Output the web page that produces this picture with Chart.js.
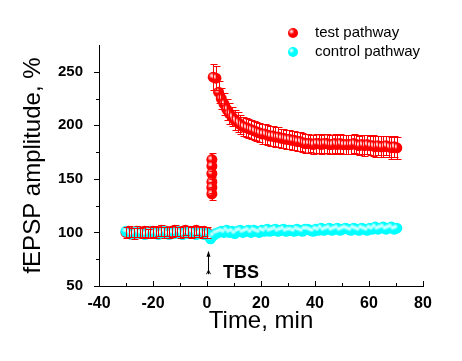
<!DOCTYPE html>
<html>
<head>
<meta charset="utf-8">
<script src="https://cdn.jsdelivr.net/npm/chart.js@4.4.1/dist/chart.umd.min.js"></script>
<style>
  html, body { margin: 0; padding: 0; background: #fff; }
</style>
</head>
<body>
<canvas id="ltpChart" width="462" height="361"></canvas>
<script>
// time points (min)
const baselineTime = [-30,-29,-28,-27,-26,-25,-24,-23,-22,-21,-20,-19,-18,-17,-16,-15,-14,-13,-12,-11,-10,-9,-8,-7,-6,-5,-4,-3,-2,-1,0];
const tbsTime = [1.8,1.8,1.8,1.8,1.8,1.8];
const controlDipTime = [1.3];
const postTime = [2.3,3.3,4.3,5.3,6.3,7.3,8.3,9.3,10.3,11.3,
  12.3,13.3,14.3,15.3,16.3,17.3,18.3,19.3,20.3,21.3,
  22.3,23.3,24.3,25.3,26.3,27.3,28.3,29.3,30.3,31.3,
  32.3,33.3,34.3,35.3,36.3,37.3,38.3,39.3,40.3,41.3,
  42.3,43.3,44.3,45.3,46.3,47.3,48.3,49.3,50.3,51.3,
  52.3,53.3,54.3,55.3,56.3,57.3,58.3,59.3,60.3,61.3,
  62.3,63.3,64.3,65.3,66.3,67.3,68.3,69.3,70.3];

// test pathway, % of baseline, with SEM
const testBaseline = [100,101,100,99,101,100,100,101,99,100,101,100,101,102,100,101,100,101,102,101,100,101,102,101,100,101,102,101,100,101,100];
const testBaselineErr = [5,5,4,5,5,4,5,5,4,5,5,5,4,5,5,4,5,5,5,4,5,5,4,5,5,5,4,5,5,4,5];
const testTbs = [136,142,147,155,162,168];
const testTbsErr = [6,5,5,5,5,6];
const testPost = [245,244,231,225,220,215,211,208,205,203,
  201,199,198,197,196,195,194,193,192,192,
  191,190,190,189,189,188,188,187,187,186,
  186,185,185,184,183,183,183,182,183,183,
  182,183,183,182,182,183,182,183,182,182,
  182,182,183,182,181,182,181,182,181,181,
  180,181,180,180,181,180,179,180,179];
const testPostErr = [12,11,10,10,10,10,10,9,9,9,
  9,9,9,9,9,9,9,9,9,9,
  9,9,9,9,9,9,9,9,9,9,
  9,9,9,9,9,9,8,9,9,9,
  9,9,9,9,9,9,9,9,9,9,
  9,9,9,9,9,9,10,9,9,10,
  10,9,10,10,9,10,10,10,10];

// control pathway
const controlBaseline = [101,100,98,99,101,99,100,98,99,101,99,100,98,99,101,99,98,100,99,101,100,98,100,99,101,100,98,99,100,98,99];
const controlDip = [94];
const controlPost = [97,99,100,101,100,102,100,101,99,
  101,102,100,101,102,100,102,101,100,102,
  101,103,101,102,103,101,102,103,101,102,
  102,101,103,102,101,103,103,102,101,103,
  102,104,102,103,104,102,103,104,102,103,
  104,103,102,104,103,102,104,103,102,104,
  103,105,103,104,105,103,104,105,103,104];

// axes
const xTicks = [-40,-20,0,20,40,60,80];
const xMinorTicks = [-30,-10,10,30,50,70];
const yTicks = [50,100,150,200,250];
const yMinorTicks = [75,125,175,225];

const testTime = baselineTime.concat(tbsTime, postTime);
const testValue = testBaseline.concat(testTbs, testPost);
const testError = testBaselineErr.concat(testTbsErr, testPostErr);
const controlTime = baselineTime.concat(controlDipTime, postTime);
const controlValue = controlBaseline.concat(controlDip, controlPost);

const toPoints = (xs, ys) => xs.map((x, i) => ({x: x, y: ys[i]}));

const FONT = "'Liberation Sans', Arial, sans-serif";

const errorBars = {
  id: 'errorBars',
  afterDatasetsDraw(chart) {
    const ctx = chart.ctx;
    const y = chart.scales.y;
    const meta = chart.getDatasetMeta(0);
    ctx.save();
    ctx.strokeStyle = '#ff0000';
    ctx.lineWidth = 1;
    meta.data.forEach((pt, i) => {
      const v = testValue[i], e = testError[i];
      const x = Math.round(pt.x) + 0.5;
      const top = Math.round(y.getPixelForValue(v + e)) + 0.5;
      const bot = Math.round(y.getPixelForValue(v - e)) + 0.5;
      ctx.beginPath();
      ctx.moveTo(x, top); ctx.lineTo(x, bot);
      ctx.moveTo(x - 3, top); ctx.lineTo(x + 4, top);
      ctx.moveTo(x - 3, bot); ctx.lineTo(x + 4, bot);
      ctx.stroke();
    });
    ctx.restore();
  }
};

function shine(ctx, x, y) {
  const g = ctx.createRadialGradient(x - 1.5, y - 1.5, 0, x - 1.5, y - 1.5, 3);
  g.addColorStop(0, 'rgba(255,255,255,0.95)');
  g.addColorStop(1, 'rgba(255,255,255,0)');
  ctx.fillStyle = g;
  ctx.beginPath();
  ctx.arc(x - 1.5, y - 1.5, 3, 0, Math.PI * 2);
  ctx.fill();
}

const highlights = {
  id: 'highlights',
  afterDatasetDraw(chart, args) {
    const ctx = chart.ctx;
    ctx.save();
    args.meta.data.forEach(pt => shine(ctx, pt.x, pt.y));
    ctx.restore();
  }
};

const tickMarks = {
  id: 'tickMarks',
  afterDraw(chart) {
    const ctx = chart.ctx, a = chart.chartArea;
    const xs = chart.scales.x, ys = chart.scales.y;
    ctx.save();
    ctx.strokeStyle = '#000';
    ctx.lineWidth = 1;
    ctx.beginPath();
    xTicks.forEach(v => {
      const x = Math.round(xs.getPixelForValue(v)) + 0.5;
      ctx.moveTo(x, a.bottom); ctx.lineTo(x, a.bottom - 5);
    });
    xMinorTicks.forEach(v => {
      const x = Math.round(xs.getPixelForValue(v)) + 0.5;
      ctx.moveTo(x, a.bottom); ctx.lineTo(x, a.bottom - 3);
    });
    yTicks.forEach(v => {
      const y = Math.round(ys.getPixelForValue(v)) + 0.5;
      ctx.moveTo(a.left, y); ctx.lineTo(a.left - 5, y);
    });
    yMinorTicks.forEach(v => {
      const y = Math.round(ys.getPixelForValue(v)) + 0.5;
      ctx.moveTo(a.left, y); ctx.lineTo(a.left - 3, y);
    });
    ctx.stroke();

    // TBS arrow and label
    const ax = Math.round(xs.getPixelForValue(0.4)) + 0.5;
    const aTop = ys.getPixelForValue(83), aBot = ys.getPixelForValue(61);
    ctx.beginPath();
    ctx.moveTo(ax, aTop + 4); ctx.lineTo(ax, aBot);
    ctx.moveTo(ax - 2, aBot); ctx.lineTo(ax, aBot - 4); ctx.lineTo(ax + 2, aBot);
    ctx.stroke();
    ctx.fillStyle = '#000';
    ctx.beginPath();
    ctx.moveTo(ax, aTop); ctx.lineTo(ax - 2, aTop + 6); ctx.lineTo(ax + 2, aTop + 6);
    ctx.closePath();
    ctx.fill();
    ctx.font = 'bold 18px ' + FONT;
    ctx.textAlign = 'center';
    ctx.textBaseline = 'middle';
    ctx.fillText('TBS', xs.getPixelForValue(12.6), ys.getPixelForValue(62.5));

    // legend
    const items = [['test pathway', '#ff0000'], ['control pathway', '#00ffff']];
    ctx.font = '15px ' + FONT;
    ctx.textAlign = 'left';
    items.forEach((it, i) => {
      const ly = a.top - 12 + i * 19;
      ctx.fillStyle = it[1];
      ctx.beginPath();
      ctx.arc(293, ly, 5, 0, Math.PI * 2);
      ctx.fill();
      shine(ctx, 293, ly);
      ctx.fillStyle = '#000';
      ctx.fillText(it[0], 315, ly);
    });
    ctx.restore();
  }
};

new Chart(document.getElementById('ltpChart'), {
  type: 'scatter',
  data: {
    datasets: [
      {
        label: 'test pathway',
        data: toPoints(testTime, testValue),
        backgroundColor: '#ff0000',
        borderWidth: 0,
        pointRadius: 5.5,
        order: 2
      },
      {
        label: 'control pathway',
        data: toPoints(controlTime, controlValue),
        backgroundColor: '#00ffff',
        borderWidth: 0,
        pointRadius: 5.5,
        order: 1
      }
    ]
  },
  options: {
    responsive: false,
    animation: false,
    events: [],
    layout: { padding: { top: 45, right: 39, left: 0, bottom: 0 } },
    plugins: {
      legend: { display: false },
      tooltip: { enabled: false }
    },
    scales: {
      x: {
        type: 'linear',
        min: -40,
        max: 80,
        afterBuildTicks: s => { s.ticks = xTicks.map(v => ({value: v})); },
        afterFit: s => { s.height = 75; },
        grid: { display: false },
        border: { display: true, color: '#000', width: 1 },
        ticks: { color: '#000', padding: 0, maxRotation: 0, font: { family: FONT, size: 16, weight: 'bold' } },
        title: { display: true, text: 'Time, min', color: '#000', padding: { bottom: 25 }, font: { family: FONT, size: 24 } }
      },
      y: {
        min: 50,
        max: 275,
        afterBuildTicks: s => { s.ticks = yTicks.map(v => ({value: v})); },
        afterFit: s => { s.width = 99; },
        grid: { display: false },
        border: { display: true, color: '#000', width: 1 },
        ticks: { color: '#000', padding: 8, font: { family: FONT, size: 15, weight: 'bold' } },
        title: { display: true, text: 'fEPSP amplitude, %', color: '#000', padding: { top: 19 }, font: { family: FONT, size: 24 } }
      }
    }
  },
  plugins: [errorBars, highlights, tickMarks]
});
</script>
</body>
</html>
